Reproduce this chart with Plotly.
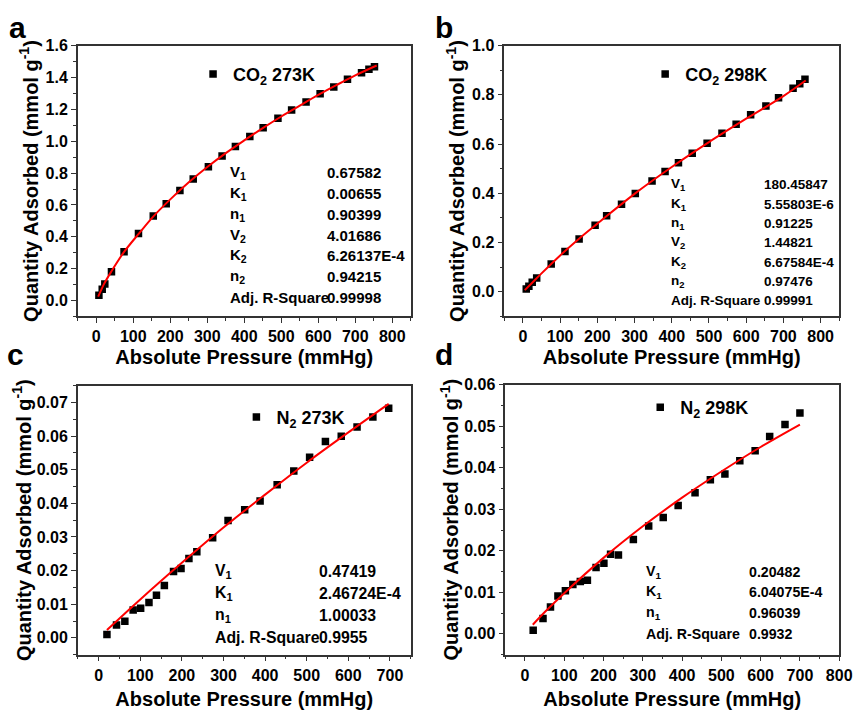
import plotly.graph_objects as go

# ---------------- data ----------------
# (a) CO2 273K
a_p = [7, 16, 23, 41, 75, 114, 154, 189, 226, 262, 303, 340, 376, 415, 451, 491,
       528, 567, 605, 642, 679, 717, 737, 752]
a_q = [0.033, 0.071, 0.104, 0.18, 0.306, 0.42, 0.53, 0.607, 0.69, 0.763, 0.84, 0.907,
       0.967, 1.03, 1.085, 1.144, 1.196, 1.246, 1.298, 1.34, 1.388, 1.43, 1.451, 1.467]
a_fit_p = [5, 10, 20, 40, 75, 115, 155, 200, 250, 300, 350, 400, 450, 500, 550, 600,
           650, 700, 758]
a_fit_q = [0.025, 0.05, 0.10, 0.18, 0.305, 0.42, 0.53, 0.635, 0.742, 0.838, 0.925,
           1.005, 1.082, 1.155, 1.223, 1.29, 1.353, 1.413, 1.475]

# (b) CO2 298K
b_p = [9, 16, 25, 37, 76, 113, 151, 194, 225, 265, 302, 347, 382, 418, 455, 495,
       535, 573, 612, 653, 687, 726, 744, 758]
b_q = [0.012, 0.023, 0.039, 0.056, 0.113, 0.164, 0.215, 0.270, 0.309, 0.356, 0.399,
       0.450, 0.489, 0.524, 0.563, 0.603, 0.644, 0.681, 0.719, 0.755, 0.788, 0.827,
       0.845, 0.863]
b_fit_p = [5, 25, 50, 100, 150, 200, 300, 400, 500, 600, 700, 760]
b_fit_q = [0.007, 0.037, 0.075, 0.148, 0.215, 0.277, 0.398, 0.507, 0.608, 0.703,
           0.795, 0.858]

# (c) N2 273K
c_p = [20, 43, 63, 83, 101, 121, 139, 158, 180, 198, 217, 236, 274, 311, 351, 388,
       429, 469, 507, 545, 583, 621, 659, 697]
c_q = [0.0010, 0.0038, 0.0049, 0.0083, 0.0088, 0.0105, 0.0127, 0.0156, 0.0197, 0.0206,
       0.0236, 0.0256, 0.0298, 0.0349, 0.0381, 0.0407, 0.0455, 0.0496, 0.0537, 0.0584,
       0.0600, 0.0627, 0.0657, 0.0683]
c_fit_p = [20, 100, 200, 300, 400, 500, 600, 697]
c_fit_q = [0.0023, 0.0114, 0.0223, 0.0328, 0.0426, 0.0521, 0.0611, 0.0696]

# (d) N2 298K
d_p = [21, 46, 65, 84, 103, 122, 141, 159, 181, 201, 218, 238, 276, 315, 352, 390,
       433, 472, 509, 547, 586, 623, 662, 700]
d_q = [0.0009, 0.0037, 0.0065, 0.0091, 0.0104, 0.0119, 0.0126, 0.0129, 0.0160, 0.0170,
       0.0192, 0.0190, 0.0227, 0.0260, 0.0280, 0.0309, 0.0340, 0.0371, 0.0385, 0.0417,
       0.0441, 0.0475, 0.0504, 0.0532]
d_fit_p = [20, 50, 100, 200, 300, 400, 500, 600, 700]
d_fit_q = [0.0022, 0.0052, 0.0098, 0.0183, 0.0259, 0.0328, 0.0391, 0.0450, 0.0504]

series_names = ["CO<sub>2</sub> 273K", "CO<sub>2</sub> 298K",
                "N<sub>2</sub> 273K", "N<sub>2</sub> 298K"]
panel_letters = ["a", "b", "c", "d"]

param_a = [("V<sub>1</sub>", "0.67582"), ("K<sub>1</sub>", "0.00655"),
           ("n<sub>1</sub>", "0.90399"), ("V<sub>2</sub>", "4.01686"),
           ("K<sub>2</sub>", "6.26137E-4"), ("n<sub>2</sub>", "0.94215"),
           ("Adj. R-Square", "0.99998")]
param_b = [("V<sub>1</sub>", "180.45847"), ("K<sub>1</sub>", "5.55803E-6"),
           ("n<sub>1</sub>", "0.91225"), ("V<sub>2</sub>", "1.44821"),
           ("K<sub>2</sub>", "6.67584E-4"), ("n<sub>2</sub>", "0.97476"),
           ("Adj. R-Square", "0.99991")]
param_c = [("V<sub>1</sub>", "0.47419"), ("K<sub>1</sub>", "2.46724E-4"),
           ("n<sub>1</sub>", "1.00033"), ("Adj. R-Square", "0.9955")]
param_d = [("V<sub>1</sub>", "0.20482"), ("K<sub>1</sub>", "6.04075E-4"),
           ("n<sub>1</sub>", "0.96039"), ("Adj. R-Square", "0.9932")]

# ---------------- layout helpers ----------------
W, H = 866, 711
FONT = "Liberation Sans, Arial, sans-serif"


def fx(px):
    return px / W


def fy(py):
    return 1 - py / H


panels = [
    dict(p=a_p, q=a_q, fp=a_fit_p, fq=a_fit_q, dom_x=(79, 417), dom_y=(38, 312),
         xr=[-50, 850], yr=[-0.1, 1.6], xdt=100, xmax=800, ydt=0.2, yminor=0.1,
         yfmt=".1f", letter=(18, 20), legend=(196, 67), params=param_a,
         pcol=(231, 330), prow0=166, pstep=21.2, pfs=15, ystand=2, xstand=6),
    dict(p=b_p, q=b_q, fp=b_fit_p, fq=b_fit_q, dom_x=(512, 852), dom_y=(38, 312),
         xr=[-50, 850], yr=[-0.1, 1.0], xdt=100, xmax=800, ydt=0.2, yminor=0.1,
         yfmt=".1f", letter=(451, 20), legend=(655, 67), params=param_b,
         pcol=(679, 774), prow0=179, pstep=19.5, pfs=13.5, ystand=2, xstand=6),
    dict(p=c_p, q=c_q, fp=c_fit_p, fq=c_fit_q, dom_x=(79, 417), dom_y=(382, 654),
         xr=[-50, 750], yr=[-0.005, 0.075], xdt=100, xmax=700, ydt=0.01, yminor=0.005,
         yfmt=".2f", letter=(16, 350), legend=(240, 414), params=param_c,
         pcol=(216, 322), prow0=570, pstep=22.3, pfs=15.8, ystand=0, xstand=9),
    dict(p=d_p, q=d_q, fp=d_fit_p, fq=d_fit_q, dom_x=(513, 852), dom_y=(381, 654),
         xr=[-50, 800], yr=[-0.005, 0.06], xdt=100, xmax=800, ydt=0.01, yminor=0.005,
         yfmt=".2f", letter=(451, 350), legend=(650, 404), params=param_d,
         pcol=(654, 758), prow0=570, pstep=21.0, pfs=14.2, ystand=0, xstand=9),
]

fig = go.Figure()
annotations = []
layout_axes = {}

for i, pn in enumerate(panels):
    k = "" if i == 0 else str(i + 1)
    xa, ya = "x" + k, "y" + k
    leg = "legend" + k
    fig.add_trace(go.Scatter(
        x=pn["p"], y=pn["q"], mode="markers", name=series_names[i],
        marker=dict(symbol="square", size=7.5, color="black"),
        xaxis=xa, yaxis=ya, legend=leg, showlegend=True))
    fig.add_trace(go.Scatter(
        x=pn["fp"], y=pn["fq"], mode="lines", line=dict(color="#ff0000", width=2,
                                                           shape="spline"),
        xaxis=xa, yaxis=ya, showlegend=False))

    axis_common = dict(
        showline=True, linecolor="#333333", linewidth=1.5, mirror=True,
        ticks="outside", ticklen=5, tickwidth=1.3, tickcolor="#333333",
        showgrid=False, zeroline=False,
        tickfont=dict(family=FONT, size=16, color="black", weight="bold"),
    )
    layout_axes["xaxis" + k] = dict(
        axis_common, domain=[fx(pn["dom_x"][0]), fx(pn["dom_x"][1])],
        anchor=ya, range=pn["xr"],
        tickmode="array", tickvals=list(range(0, pn["xmax"] + 1, pn["xdt"])),
        minor=dict(ticks="outside", ticklen=3, tickcolor="#333333", dtick=50,
                   tick0=0, showgrid=False),
        title=dict(text="Absolute Pressure (mmHg)", standoff=pn["xstand"],
                   font=dict(family=FONT, size=20, color="black", weight="bold")),
    )
    layout_axes["yaxis" + k] = dict(
        axis_common, domain=[fy(pn["dom_y"][1]), fy(pn["dom_y"][0])],
        anchor=xa, range=pn["yr"], dtick=pn["ydt"], tick0=0, tickformat=pn["yfmt"],
        minor=dict(ticks="outside", ticklen=3, tickcolor="#333333",
                   dtick=pn["yminor"], tick0=0, showgrid=False),
        title=dict(text="Quantity Adsorbed (mmol g<sup>-1</sup>)",
                   standoff=pn["ystand"],
                   font=dict(family=FONT, size=20, color="black", weight="bold")),
    )
    layout_axes[leg] = dict(
        x=fx(pn["legend"][0]), y=fy(pn["legend"][1]), xanchor="left",
        yanchor="middle", bgcolor="rgba(0,0,0,0)", borderwidth=0,
        font=dict(family=FONT, size=18, color="black", weight="bold"),
        itemwidth=30,
    )
    # panel letter
    annotations.append(dict(
        text=panel_letters[i], x=fx(pn["letter"][0]), y=fy(pn["letter"][1]),
        xref="paper", yref="paper", showarrow=False, xanchor="center",
        yanchor="middle",
        font=dict(family=FONT, size=30, color="black", weight="bold")))
    # parameter table
    for r, (nm, val) in enumerate(pn["params"]):
        yy = fy(pn["prow0"] + r * pn["pstep"])
        for txt, xp in ((nm, pn["pcol"][0]), (val, pn["pcol"][1])):
            annotations.append(dict(
                text=txt, x=fx(xp), y=yy, xref="paper", yref="paper",
                showarrow=False, xanchor="left", yanchor="middle",
                font=dict(family=FONT, size=pn["pfs"], color="black",
                          weight="bold")))

fig.update_layout(
    width=W, height=H, margin=dict(l=0, r=0, t=0, b=0),
    paper_bgcolor="white", plot_bgcolor="white",
    annotations=annotations, **layout_axes,
)

fig.write_html("out.html")
